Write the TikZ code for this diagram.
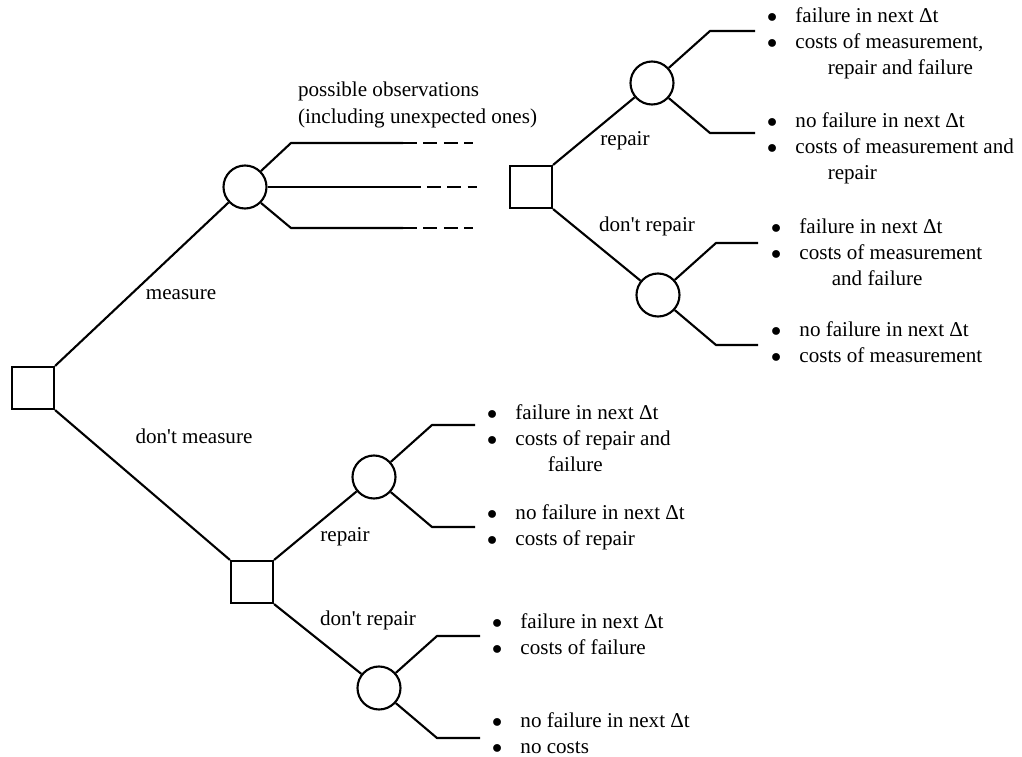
\documentclass[tikz,border=0pt]{standalone}
\usepackage{fontspec}
\setmainfont{Liberation Serif}
\tikzset{
  decision/.style={draw, rectangle, minimum size=1.05cm, inner sep=0pt},
  chance/.style={draw, circle, minimum size=1.075cm, inner sep=0pt},
  outcome/.style={anchor=base west, inner sep=0pt},
  choice/.style={inner sep=0pt},
  unseen/.style={dash pattern=on 10pt off 4.5pt}
}
\newcommand{\results}[1]{\begin{tabular}[t]{@{}l@{\hspace{13pt}}l@{}}#1\end{tabular}}
\newcommand{\bul}{$\bullet$}
\newcommand{\q}{\textquotesingle}
\begin{document}
\begin{tikzpicture}[x=0.025cm, y=-0.025cm, line width=1.5pt, font=\fontsize{15}{18.8}\selectfont]
\useasboundingbox (0,0) rectangle (1022,757);
% decision nodes
\node[decision] (d0) at (33,388) {};
\node[decision] (d1) at (531,187) {};
\node[decision] (d2) at (252,582) {};
% chance nodes
\node[chance] (c1) at (245,187) {};
\node[chance] (c2) at (652,83) {};
\node[chance] (c3) at (658,295) {};
\node[chance] (c4) at (374,477) {};
\node[chance] (c5) at (379,688) {};
% decisions
\draw (d0.north east) -- (c1);
\draw (d0.south east) -- (d2.north west);
\draw (d1.north east) -- (c2);
\draw (d1.south east) -- (c3);
\draw (d2.north east) -- (c4);
\draw (d2.south east) -- (c5);
% observations
\draw (c1.45) -- ([shift={(46,-44)}]c1.center) -- ++(112,0) coordinate (e1);
\draw (c1.east) -- ++(139,0) coordinate (e2);
\draw (c1.-45) -- ([shift={(46,41)}]c1.center) -- ++(112,0) coordinate (e3);
\foreach \e in {e1,e2,e3} {
\draw[unseen] (\e) -- ++(70,0);
}
% failure / no failure
\foreach \c/\len in {c2/45, c3/42, c4/43, c5/43} {
\draw (\c.42) -- ([shift={(58,-52)}]\c.center) -- ++(\len,0);
\draw (\c.-42) -- ([shift={(58,50)}]\c.center) -- ++(\len,0);
}
% branch labels
\node[choice] (lmeas) at (181,295) {measure};
\node[choice] (lnomeas) at (194,436) {don\q t measure};
\node[choice] (lrep1) at (625,141) {repair};
\node[choice] (lnorep1) at (647,226) {don\q t repair};
\node[choice] (lrep2) at (345,537) {repair};
\node[choice] (lnorep2) at (368,620) {don\q t repair};
\node[choice, anchor=west, align=left] (lobs) at (297,105) {possible observations\\(including unexpected ones)};
% outcomes
\node[outcome] (o1) at (766,22) {\results{\bul & failure in next Δt\\ \bul & costs of measurement,\\ & \hspace{23pt}repair and failure}};
\node[outcome] (o2) at (766,127) {\results{\bul & no failure in next Δt\\ \bul & costs of measurement and\\ & \hspace{23pt}repair}};
\node[outcome] (o3) at (770,233) {\results{\bul & failure in next Δt\\ \bul & costs of measurement\\ & \hspace{23pt}and failure}};
\node[outcome] (o4) at (770,336) {\results{\bul & no failure in next Δt\\ \bul & costs of measurement}};
\node[outcome] (o5) at (486,419) {\results{\bul & failure in next Δt\\ \bul & costs of repair and\\ & \hspace{23pt}failure}};
\node[outcome] (o6) at (486,519) {\results{\bul & no failure in next Δt\\ \bul & costs of repair}};
\node[outcome] (o7) at (491,628) {\results{\bul & failure in next Δt\\ \bul & costs of failure}};
\node[outcome] (o8) at (491,727) {\results{\bul & no failure in next Δt\\ \bul & no costs}};
\end{tikzpicture}
\end{document}
